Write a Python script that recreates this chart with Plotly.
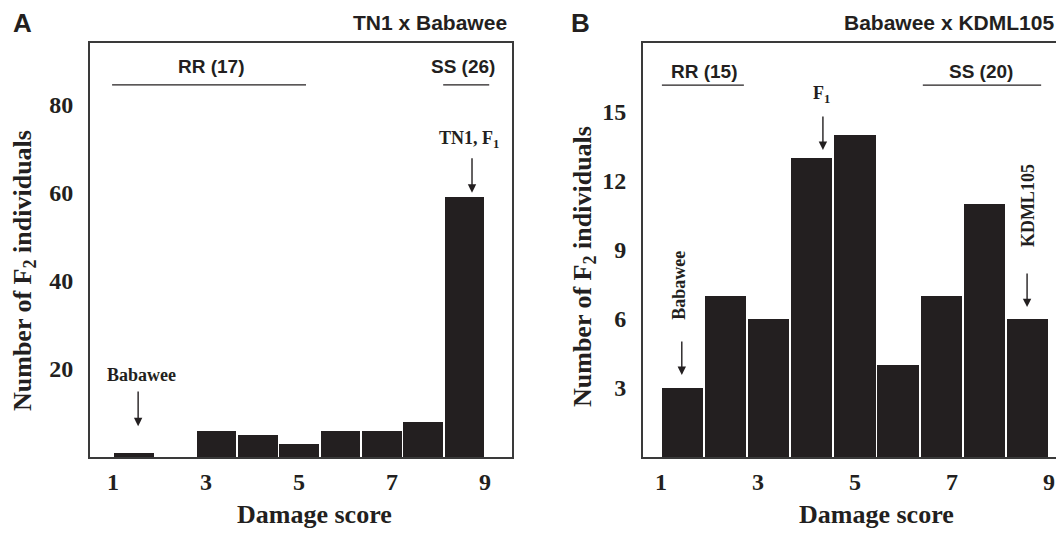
import plotly.graph_objects as go

# ---------------- data ----------------
scores = [1, 2, 3, 4, 5, 6, 7, 8, 9]
counts_a = [1, 0, 6, 5, 3, 6, 6, 8, 59]          # TN1 x Babawee
counts_b = [3, 7, 6, 13, 14, 4, 7, 11, 6]        # Babawee x KDML105
xtick_vals = [1, 3, 5, 7, 9]
ytick_a = [20, 40, 60, 80]
ytick_b = [3, 6, 9, 12, 15]
title_a = "TN1 x Babawee"
title_b = "Babawee x KDML105"

# page body has an 8px margin: figure is drawn 8px in from the window corner
OFF = 8
W, H = 1064 - OFF, 534 - OFF
SERIF = "Liberation Serif"
SANS = "Liberation Sans"
BAR = "#231f20"
FRAME = "#3a3a3a"

# scores are binned over the 1..9 damage scale: 9 equal bins
nb = len(scores)
binw = (scores[-1] - scores[0]) / nb
centers = [scores[0] + (i + 0.5) * binw for i in range(nb)]

def X(p):
    return (p - OFF) / W

def Y(p):
    return (H - (p - OFF)) / H

fig = go.Figure()
fig.add_trace(go.Bar(x=centers, y=counts_a, width=binw * 0.96, marker=dict(color=BAR, line=dict(width=0)),
                     xaxis="x", yaxis="y", hoverinfo="x+y"))
fig.add_trace(go.Bar(x=centers, y=counts_b, width=binw * 0.955, marker=dict(color=BAR, line=dict(width=0)),
                     xaxis="x2", yaxis="y2", hoverinfo="x+y"))

tickfont = dict(family=SERIF, size=24, color="#231f20", weight="bold")
axcommon = dict(showgrid=False, zeroline=False, showline=True, linecolor=FRAME, linewidth=2,
                mirror=True, ticks="", tickfont=tickfont, fixedrange=True)

fig.update_layout(
    width=W, height=H, margin=dict(l=0, r=0, t=0, b=0),
    paper_bgcolor="white", plot_bgcolor="white", showlegend=False, bargap=0,
    xaxis=dict(domain=[X(90), X(512)], range=[0.505, 9.58], tickvals=xtick_vals,
               ticklabelstandoff=2, anchor="y", **axcommon),
    yaxis=dict(domain=[Y(457), Y(43)], range=[0, 94], tickvals=ytick_a,
               ticklabelstandoff=10, anchor="x", **axcommon),
    xaxis2=dict(domain=[X(643), X(1062)], range=[0.63, 9.27], tickvals=xtick_vals,
                ticklabelstandoff=2, anchor="y2", **axcommon),
    yaxis2=dict(domain=[Y(457), Y(43)], range=[0, 18], tickvals=ytick_b,
                ticklabelstandoff=10, anchor="x2", **axcommon),
)

ann = []
shapes = []

def txt(text, x, y, xref="paper", yref="paper", font=None, angle=0, xanchor="center", yanchor="middle"):
    ann.append(dict(text=text, x=x, y=y, xref=xref, yref=yref, showarrow=False, textangle=angle,
                    font=font, xanchor=xanchor, yanchor=yanchor))

def arrow(xr, yr, x, ytail, ytip):
    ann.append(dict(text="", x=x, y=ytip, ax=x, ay=ytail, xref=xr, yref=yr, axref=xr, ayref=yr,
                    showarrow=True, arrowhead=2, arrowsize=1.2, arrowwidth=1.4, arrowcolor="#231f20"))

def hline(xr, yr, x0, x1, y):
    shapes.append(dict(type="line", xref=xr, yref=yr, x0=x0, x1=x1, y0=y, y1=y,
                       line=dict(color="#231f20", width=1.3)))

panel_font = dict(family=SANS, size=26, color="#231f20", weight="bold")
title_font = dict(family=SANS, size=21, color="#231f20", weight="bold")
group_font = dict(family=SANS, size=19, color="#231f20", weight="bold")
axtitle_font = dict(family=SERIF, size=26, color="#231f20", weight="bold")
lab_font = dict(family=SERIF, size=18, color="#231f20", weight="bold")

# panel letters and titles
txt("A", X(22), Y(23), font=panel_font)
txt("B", X(580), Y(23), font=panel_font)
txt(title_a, X(509), Y(22), font=title_font, xanchor="right")
txt(title_b, X(1056), Y(22), font=title_font, xanchor="right")

# axis titles
txt("Damage score", X(314), Y(514), font=axtitle_font)
txt("Damage score", X(876), Y(514), font=axtitle_font)
txt("Number of F<sub>2</sub> individuals", X(24), Y(271), font=axtitle_font, angle=-90)
txt("Number of F<sub>2</sub> individuals", X(584), Y(267), font=axtitle_font, angle=-90)

# Panel A groups
hline("x", "y", 0.98, 5.15, 84.5)
txt("RR (17)", 3.11, 88.6, xref="x", yref="y", font=group_font)
hline("x", "y", 8.10, 9.09, 84.5)
txt("SS (26)", 8.53, 88.6, xref="x", yref="y", font=group_font)
# Panel A parent labels
txt("Babawee", 1.62, 18.6, xref="x", yref="y", font=lab_font)
arrow("x", "y", 1.54, 15.2, 7.0)
txt("TN1, F<sub>1</sub>", 8.66, 72.0, xref="x", yref="y", font=lab_font)
arrow("x", "y", 8.72, 68.2, 60.0)

# Panel B groups
hline("x2", "y2", 1.02, 2.71, 16.17)
txt("RR (15)", 1.89, 16.74, xref="x2", yref="y2", font=group_font)
hline("x2", "y2", 6.40, 8.84, 16.17)
txt("SS (20)", 7.60, 16.74, xref="x2", yref="y2", font=group_font)
# Panel B parent labels
txt("F<sub>1</sub>", 4.32, 15.74, xref="x2", yref="y2", font=lab_font)
arrow("x2", "y2", 4.34, 14.87, 13.35)
txt("Babawee", 1.37, 7.48, xref="x2", yref="y2", font=lab_font, angle=-90)
arrow("x2", "y2", 1.43, 5.09, 3.57)
txt("KDML105", 8.57, 10.91, xref="x2", yref="y2", font=lab_font, angle=-90)
arrow("x2", "y2", 8.55, 8.04, 6.52)

fig.update_layout(annotations=ann, shapes=shapes)
fig.write_html("out.html")
